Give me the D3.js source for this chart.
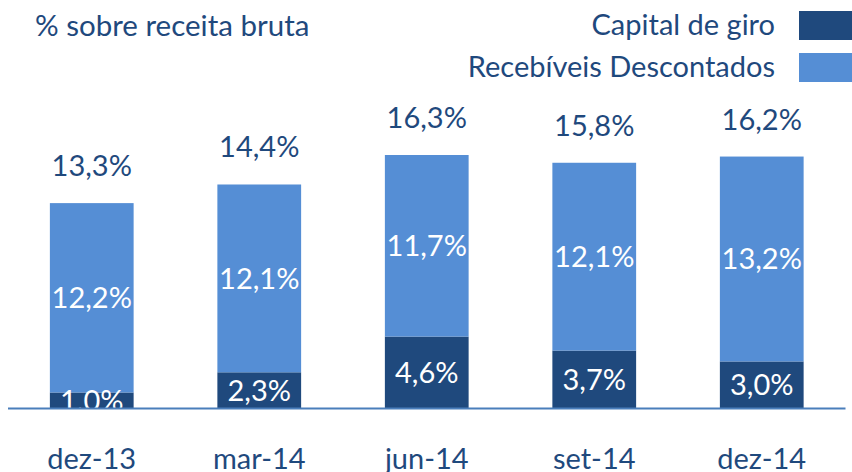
<!DOCTYPE html>
<html lang="pt">
<head>
<meta charset="UTF-8">
<title>Capital de giro</title>
<script src="https://d3js.org/d3.v7.min.js"></script>
<style>
  body { margin: 0; background: #fff; }
  svg { display: block; font-family: Lato, "Open Sans", sans-serif; }
</style>
</head>
<body>
<div class="chart"></div>
<script>
// dados
const categorias = ['dez-13', 'mar-14', 'jun-14', 'set-14', 'dez-14']
const capitalGiro = [1.0, 2.3, 4.6, 3.7, 3.0]
const recebiveis = [12.2, 12.1, 11.7, 12.1, 13.2]
const totais = [13.3, 14.4, 16.3, 15.8, 16.2]
const series = ['Capital de giro', 'Recebíveis Descontados']
const cores = ['#1F497D', '#558ED5']

const W = 852, H = 472
const fmt = v => v.toFixed(1).replace('.', ',') + '%'
const textColor = '#1F497D'

const svg = d3.select('.chart').append('svg')
  .attr('width', W).attr('height', H)

// escalas
const x = d3.scaleBand().domain(categorias).range([8, 845.5])
  .paddingInner(0.5).paddingOuter(0.25)
const y = d3.scaleLinear().domain([0, 16.3]).range([408, 155])

// clip na linha de base
svg.append('clipPath').attr('id', 'plot')
  .append('rect').attr('x', 0).attr('y', 0).attr('width', W).attr('height', y(0))

const rows = categorias.map((c, i) => ({ cat: c, giro: capitalGiro[i], rec: recebiveis[i], total: totais[i] }))
const stack = d3.stack().keys(['giro', 'rec'])(rows)

const g = svg.append('g').attr('clip-path', 'url(#plot)')

g.selectAll('g.serie')
  .data(stack)
  .join('g')
  .attr('class', 'serie')
  .attr('fill', (d, i) => cores[i])
  .selectAll('rect')
  .data(d => d)
  .join('rect')
  .attr('x', d => x(d.data.cat))
  .attr('width', x.bandwidth())
  .attr('y', d => y(d[1]))
  .attr('height', d => y(d[0]) - y(d[1]))

// rótulos internos
stack.forEach(s => {
  g.append('g').selectAll('text')
    .data(s)
    .join('text')
    .attr('x', d => x(d.data.cat) + x.bandwidth() / 2)
    .attr('y', d => (y(d[0]) + y(d[1])) / 2)
    .attr('dy', '0.36em')
    .attr('text-anchor', 'middle')
    .attr('fill', '#fff')
    .style('font-size', '29px')
    .text(d => fmt(d.data[s.key]))
})

// linha de base
svg.append('line')
  .attr('x1', 8).attr('x2', 845.5)
  .attr('y1', y(0) + 0.5).attr('y2', y(0) + 0.5)
  .attr('stroke', '#4A7EBB').attr('stroke-width', 2)

// totais
svg.append('g').selectAll('text')
  .data(rows)
  .join('text')
  .attr('x', d => x(d.cat) + x.bandwidth() / 2)
  .attr('y', d => y(d.giro + d.rec) - 27)
  .attr('text-anchor', 'middle')
  .attr('fill', textColor)
  .style('font-size', '29px')
  .text(d => fmt(d.total))

// eixo x
svg.append('g').selectAll('text')
  .data(categorias)
  .join('text')
  .attr('x', d => x(d) + x.bandwidth() / 2)
  .attr('y', 469)
  .attr('text-anchor', 'middle')
  .attr('fill', textColor)
  .style('font-size', '29px')
  .text(d => d)

// título
svg.append('text')
  .attr('x', 35).attr('y', 36)
  .attr('fill', textColor)
  .style('font-size', '29.5px')
  .text('% sobre receita bruta')

// legenda
const leg = svg.append('g').selectAll('g')
  .data(series)
  .join('g')
  .attr('transform', (d, i) => `translate(0, ${i * 42})`)
leg.append('rect')
  .attr('x', 799).attr('y', 11)
  .attr('width', 53).attr('height', 29)
  .attr('fill', (d, i) => cores[i])
leg.append('text')
  .attr('x', 775).attr('y', 35)
  .attr('text-anchor', 'end')
  .attr('fill', textColor)
  .style('font-size', '29px')
  .text(d => d)
</script>
</body>
</html>
